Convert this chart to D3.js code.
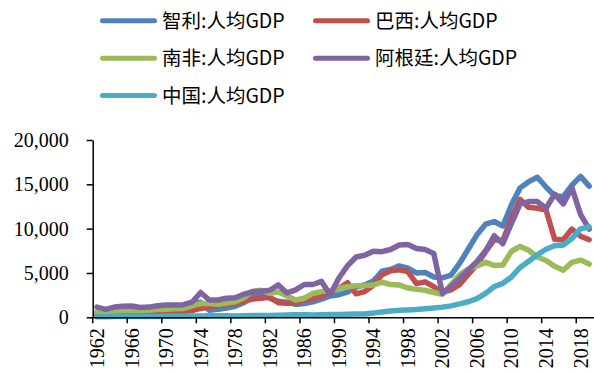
<!DOCTYPE html>
<html><head><meta charset="utf-8">
<script src="https://cdn.jsdelivr.net/npm/d3@7"></script>
<style>
html,body{margin:0;padding:0;background:#fff;}
svg{display:block;}
</style></head>
<body>
<svg id="c" width="594" height="374"></svg>
<script>
const years = d3.range(1962, 2020);
const seriesNames = ["智利:人均GDP","巴西:人均GDP","南非:人均GDP","阿根廷:人均GDP","中国:人均GDP"];
const seriesColors = ["#4F81BD","#C0504D","#9BBB59","#8064A2","#4BACC6"];
const yTicks = [0,5000,10000,15000,20000];

const chile = [560,580,600,650,720,720,740,840,930,1080,1120,1600,1700,800,900,1050,1250,1650,2300,2700,2150,1800,1700,1450,1550,1750,2050,2400,2550,2850,3400,3650,4100,5200,5400,5800,5550,5000,5050,4550,4450,4750,6100,7700,9300,10500,10800,10300,12700,14600,15300,15800,14700,13700,13600,14900,15900,14800];
const brazil = [260,290,260,260,320,350,370,400,440,500,580,770,1000,1150,1350,1450,1600,1800,2050,2150,2250,1650,1580,1600,1950,2100,2400,2900,3250,3900,2650,2900,3600,4800,5250,5350,5150,3800,4000,3450,2800,3100,3700,4850,5950,7400,8750,8650,11200,13300,12400,12300,12100,8800,8750,9950,9150,8750];
const southAfrica = [600,560,720,780,800,760,790,880,900,950,980,1280,1550,1560,1480,1620,1750,2200,2950,3050,2700,2850,2400,1950,2150,2700,2900,3000,3250,3450,3550,3600,3650,3950,3700,3650,3300,3150,3050,2800,2600,3700,4800,5450,5800,6200,5850,5900,7450,8000,7550,6800,6400,5750,5300,6200,6450,6000];
const argentina = [1150,900,1150,1250,1280,1100,1150,1300,1380,1400,1420,1700,2800,1950,1950,2150,2200,2600,2850,2950,3050,3650,2750,3100,3700,3700,4050,2550,4400,5800,6800,7000,7450,7400,7650,8150,8200,7750,7650,7200,2700,3500,4400,5350,6300,7500,9200,8300,10600,12800,13050,13050,12300,13900,12800,14600,11600,9950];
const china = [70,74,85,98,104,96,91,100,113,119,132,157,160,178,165,185,156,184,195,197,203,225,250,294,282,251,284,311,318,333,366,377,473,610,709,782,829,873,959,1053,1149,1289,1509,1753,2099,2694,3468,3832,4550,5618,6317,7051,7679,8067,8148,8879,9977,10217];

const seriesData = [chile, brazil, southAfrica, argentina, china];

const svg = d3.select("#c");
const L = 92.7, R = 593.5, T = 140, B = 317.3;

const x = d3.scaleBand().domain(years).range([L, R]).padding(0);
const bw = x.bandwidth();
const y = d3.scaleLinear().domain([0, 20000]).range([B, T]);

const line = d3.line()
  .x((d, i) => x(years[i]) + bw / 2)
  .y(d => y(d))
  .curve(d3.curveLinear);

seriesData.forEach((s, k) => {
  svg.append("path")
    .datum(s)
    .attr("d", line)
    .attr("fill", "none")
    .attr("stroke", seriesColors[k])
    .attr("stroke-width", 5.5)
    .attr("stroke-linejoin", "round")
    .attr("stroke-linecap", "round");
});

// y axis
const yAxis = d3.axisLeft(y).tickValues(yTicks).tickFormat(d3.format(",")).tickSize(6).tickSizeOuter(0).tickPadding(18);
const gy = svg.append("g").attr("transform", `translate(${L},0)`).call(yAxis);
gy.select(".domain").attr("stroke", "#000").attr("stroke-width", 1.5);
gy.selectAll(".tick line").attr("stroke", "#000").attr("stroke-width", 1.5);
gy.selectAll(".tick text")
  .attr("font-family", "'Liberation Serif','Times New Roman',serif")
  .attr("font-size", 20).attr("fill", "#000");

// x axis
const labelYears = years.filter((d, i) => i % 4 === 0);
const xAxis = d3.axisBottom(x).tickValues(labelYears).tickSize(0).tickSizeOuter(0);
const gx = svg.append("g").attr("transform", `translate(0,${B})`).call(xAxis);
gx.select(".domain").attr("stroke", "#000").attr("stroke-width", 1.5);
gx.selectAll(".tick text")
  .attr("font-family", "'Liberation Serif','Times New Roman',serif")
  .attr("font-size", 20).attr("fill", "#000")
  .attr("transform", "rotate(-90)")
  .attr("text-anchor", "end")
  .attr("dy", "0.35em")
  .attr("x", -11)
  .attr("y", 0);
gx.selectAll(".bt").data(labelYears).enter().append("line")
  .attr("x1", d => x(d)).attr("x2", d => x(d))
  .attr("y1", 0).attr("y2", 6)
  .attr("stroke", "#000").attr("stroke-width", 1.5);

// legend
const legendPos = [
  {lx: 102.5, ly: 20.7}, {lx: 315.5, ly: 20.7},
  {lx: 102.5, ly: 58.2}, {lx: 315.5, ly: 58.2},
  {lx: 102.5, ly: 95.5}
];
const lg = svg.append("g");
seriesNames.forEach((n, k) => {
  const p = legendPos[k];
  lg.append("line")
    .attr("x1", p.lx).attr("x2", p.lx + 52)
    .attr("y1", p.ly).attr("y2", p.ly)
    .attr("stroke", seriesColors[k]).attr("stroke-width", 5)
    .attr("stroke-linecap", "round");
  lg.append("text")
    .attr("x", p.lx + 59.5).attr("y", p.ly)
    .attr("dy", "0.36em")
    .attr("font-family", "'Noto Sans CJK SC','Noto Sans',sans-serif")
    .attr("font-size", 19.5)
    .attr("fill", "#000")
    .text(n);
});
</script>
</body></html>
